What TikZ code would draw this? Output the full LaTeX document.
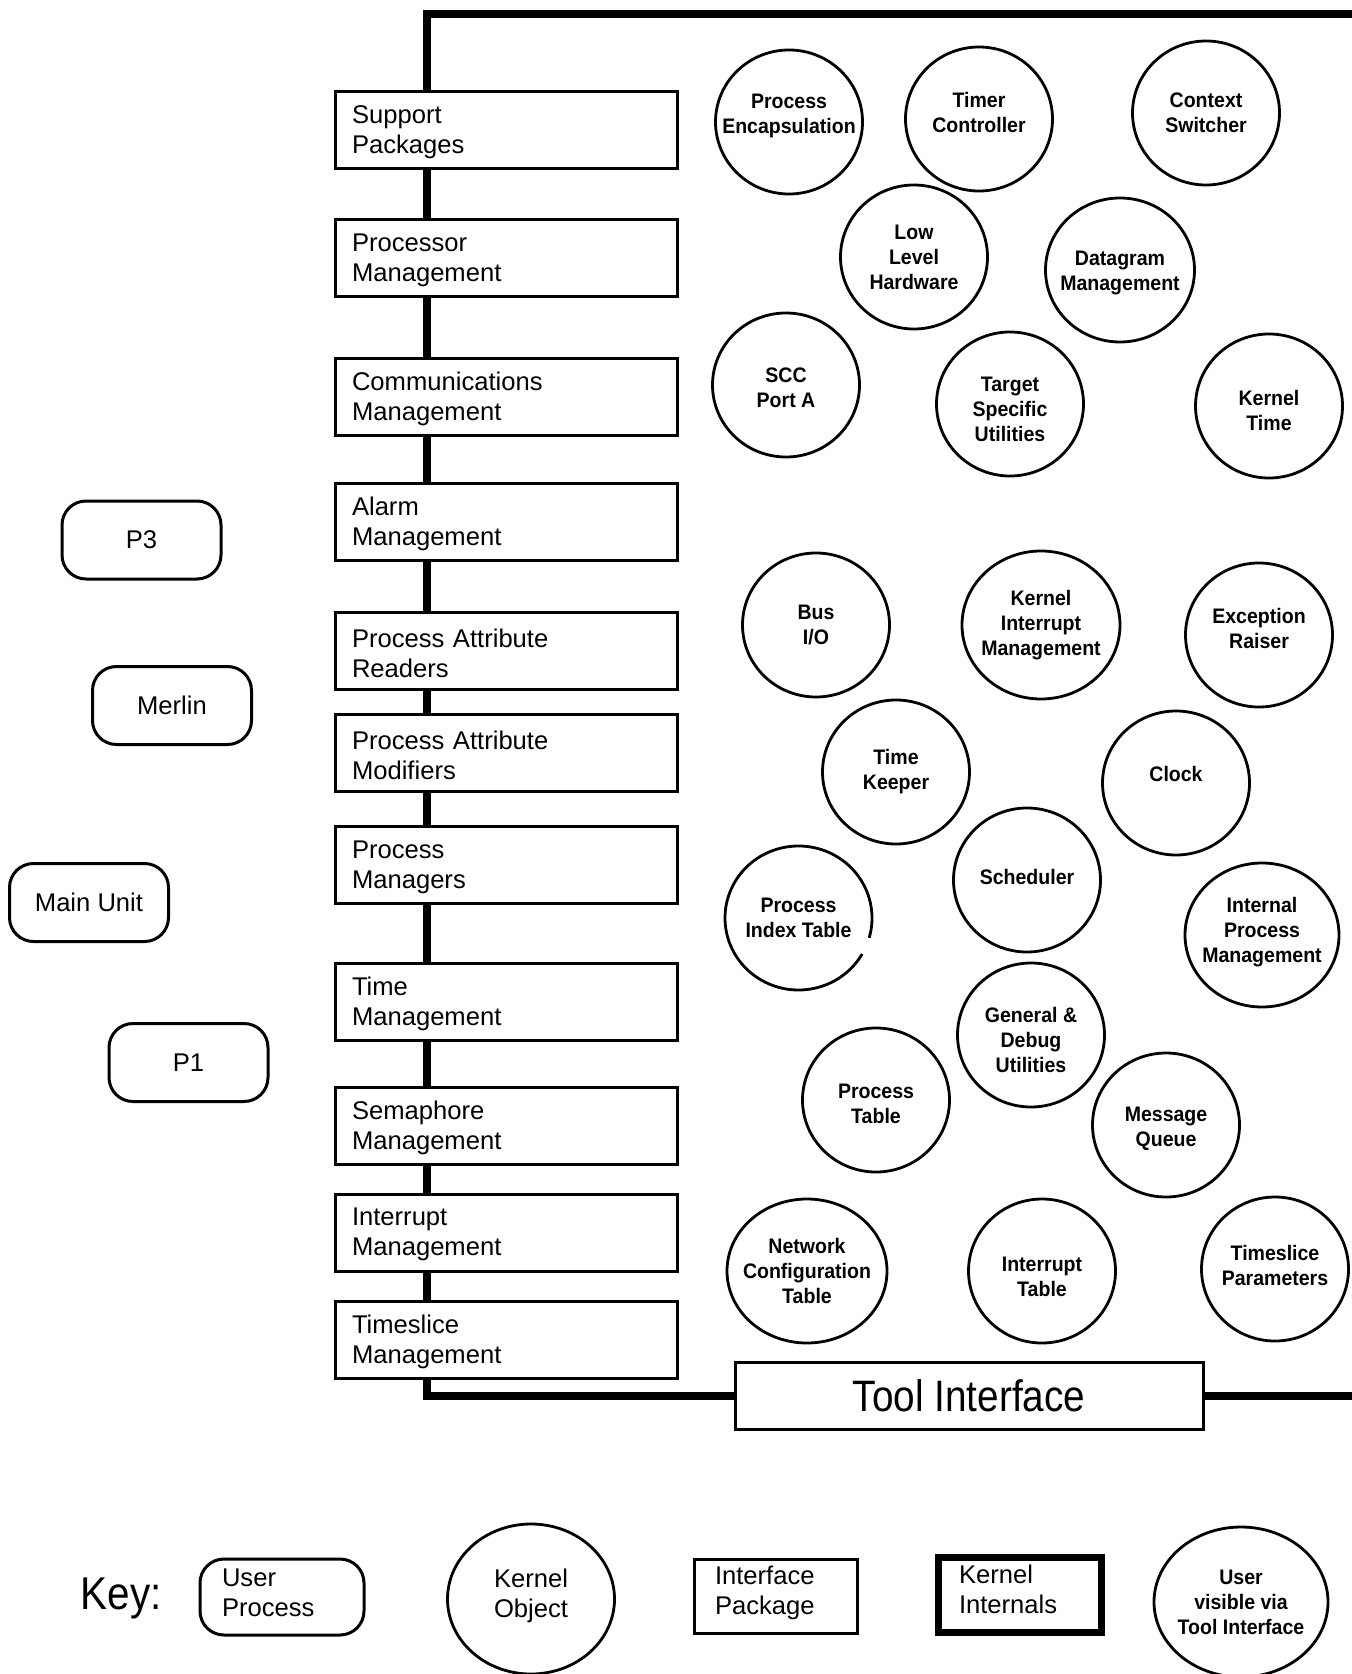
\documentclass[tikz,border=0pt]{standalone}
\usepackage{fontspec}
\setmainfont{Liberation Sans}
\newfontfamily\objfont{Liberation Sans}[FakeStretch=0.93]
\newfontfamily\bigfont{Liberation Sans}[FakeStretch=0.88]
\usetikzlibrary{shapes.geometric,backgrounds}

\begin{document}
\begin{tikzpicture}[x=0.5pt,y=-0.5pt,
  boxfont/.style={font=\fontsize{12.8}{15}\selectfont},
  pkgtext/.style={text width=152pt, align=left, inner sep=0pt,
    xshift=-1pt, yshift=-1pt, boxfont},
  pkg/.style={draw, line width=1.5pt, fill=white, rectangle,
    minimum width=171pt, minimum height=38.5pt, inner sep=0pt,
    label={[pkgtext]center:#1}},
  proc/.style={draw, line width=1.5pt, fill=white, rounded corners=12pt,
    minimum width=79.5pt, minimum height=39pt, boxfont},
  objtext/.style={align=center, inner sep=0pt,
    font=\objfont\bfseries\fontsize{10.5}{12.5}\selectfont},
  kobj/.style 2 args={draw, ellipse, line width=1.4pt, inner sep=0pt,
    minimum width=73.5pt, minimum height=72pt,
    label={[objtext, yshift=#2]center:#1}},
  keytext/.style={align=left, inner sep=0pt, boxfont},
  spine/.style={line width=4pt}
]
\useasboundingbox (0,0) rectangle (1351,1674);

% interface packages
\node[pkg={Support\\Packages}]              (b1)  at (506,129.8)  {};
\node[pkg={Processor\\Management}]          (b2)  at (506,258.5)  {};
\node[pkg={Communications\\Management}]     (b3)  at (506,397)    {};
\node[pkg={Alarm\\Management}]              (b4)  at (506,522)    {};
\node[pkg={Process Attribute\\Readers}]     (b5)  at (506,651)    {};
\node[pkg={Process Attribute\\Modifiers}]   (b6)  at (506,753)    {};
\node[pkg={Process\\Managers}]              (b7)  at (506,865)    {};
\node[pkg={Time\\Management}]               (b8)  at (506,1002)   {};
\node[pkg={Semaphore\\Management}]          (b9)  at (506,1126)   {};
\node[pkg={Interrupt\\Management}]          (b10) at (506,1232.5) {};
\node[pkg={Timeslice\\Management}]          (b11) at (506,1339.5) {};

% tool interface
\node[draw, line width=1.5pt, fill=white, minimum width=234pt,
  minimum height=33.5pt, inner sep=0pt,
  font=\bigfont\fontsize{22}{26}\selectfont] (tool) at (969,1395.5) {Tool Interface};

% kernel internals frame
\coordinate (tl) at (427,14);
\coordinate (tr) at (1380,14);
\coordinate (bl) at (427,1395.5);
\coordinate (br) at (1380,1395.5);
\begin{scope}[on background layer]
  \fill[white] (0,0) rectangle (1351,1674);
  \draw[spine] (tr) -- (tl) -- (bl) -- (tool.west);
  \draw[spine] (tool.east) -- (br);
\end{scope}

% user processes
\node[proc] (p3)     at (141.5,540)    {P3};
\node[proc] (merlin) at (172,705.5)    {Merlin};
\node[proc] (main)   at (89,902.5)     {Main Unit};
\node[proc] (p1)     at (188.5,1062.5) {P1};

% kernel objects
\node[kobj={Process\\Encapsulation}{3.2pt}] (pe) at (789,122) {};
\node[kobj={Timer\\Controller}{3.2pt}] (tc) at (979,119) {};
\node[kobj={Context\\Switcher}{0pt}] (cs) at (1206,113) {};
\node[kobj={Low\\Level\\Hardware}{0pt}] (llh) at (914,257) {};
\node[kobj={Datagram\\Management}{-1.3pt}, minimum width=74.5pt] (dm) at (1120,270) {};
\node[kobj={SCC\\Port A}{-1.3pt}] (scc) at (786,385) {};
\node[kobj={Target\\Specific\\Utilities}{-2.7pt}] (tsu) at (1010,404) {};
\node[kobj={Kernel\\Time}{-2.1pt}] (kt) at (1269,406) {};
\node[kobj={Bus\\I/O}{0pt}] (bus) at (816,625) {};
\node[kobj={Kernel\\Interrupt\\Management}{0pt}, minimum width=79pt, minimum height=74pt] (kim) at (1041,625) {};
\node[kobj={Exception\\Raiser}{3.2pt}] (er) at (1259,635) {};
\node[kobj={Time\\Keeper}{0pt}] (tk) at (896,772) {};
\node[kobj={Clock}{4.3pt}] (clk) at (1176,783) {};
\node[kobj={Scheduler}{1.6pt}] (sch) at (1027,880) {};
\node[ellipse, inner sep=0pt, minimum width=73.5pt, minimum height=72pt,
  label={[objtext]center:Process\\Index Table}] (pit) at (798.5,918) {};
\draw[line width=1.4pt] ([shift={(30:73.5 and 72)}]pit.center)
  arc[start angle=30, end angle=376, x radius=73.5, y radius=72];
\node[kobj={Internal\\Process\\Management}{1.6pt}, minimum width=77pt] (ipm) at (1262,935) {};
\node[kobj={General \&\\Debug\\Utilities}{-2.7pt}] (gdu) at (1031,1035) {};
\node[kobj={Process\\Table}{-2.1pt}] (pt) at (876,1100) {};
\node[kobj={Message\\Queue}{-2.1pt}] (mq) at (1166,1125) {};
\node[kobj={Network\\Configuration\\Table}{0pt}, minimum width=80pt] (nct) at (807,1271) {};
\node[kobj={Interrupt\\Table}{-2.7pt}] (it) at (1042,1271) {};
\node[kobj={Timeslice\\Parameters}{1.6pt}] (tsp) at (1275,1269) {};

% key
\node[font=\bigfont\fontsize{23}{27}\selectfont] (key) at (121,1598) {Key:};
\node[draw, line width=1.5pt, rounded corners=12pt, minimum width=82pt,
  minimum height=38pt, inner sep=0pt,
  label={[keytext, text width=60pt, xshift=0pt, yshift=2.1pt]center:User\\Process}]
  (kup) at (282,1597) {};
\node[draw, ellipse, line width=1.4pt, inner sep=0pt, minimum width=83.5pt,
  minimum height=75pt,
  label={[align=center, inner sep=0pt, boxfont, yshift=1.6pt]center:Kernel\\Object}]
  (kko) at (531,1599) {};
\node[draw, line width=1.5pt, minimum width=81.5pt, minimum height=37pt,
  inner sep=0pt,
  label={[keytext, text width=60.5pt, xshift=0pt, yshift=1.6pt]center:Interface\\Package}]
  (kip) at (775.5,1596) {};
\node[draw, line width=3.5pt, minimum width=81.5pt, minimum height=37.5pt,
  inner sep=0pt,
  label={[keytext, text width=61pt, xshift=0pt, yshift=2.7pt]center:Kernel\\Internals}]
  (kki) at (1020,1595) {};
\node[kobj={User\\visible via\\Tool Interface}{0pt}, minimum width=87pt,
  minimum height=75pt] (kuv) at (1241,1602) {};
\end{tikzpicture}
\end{document}
